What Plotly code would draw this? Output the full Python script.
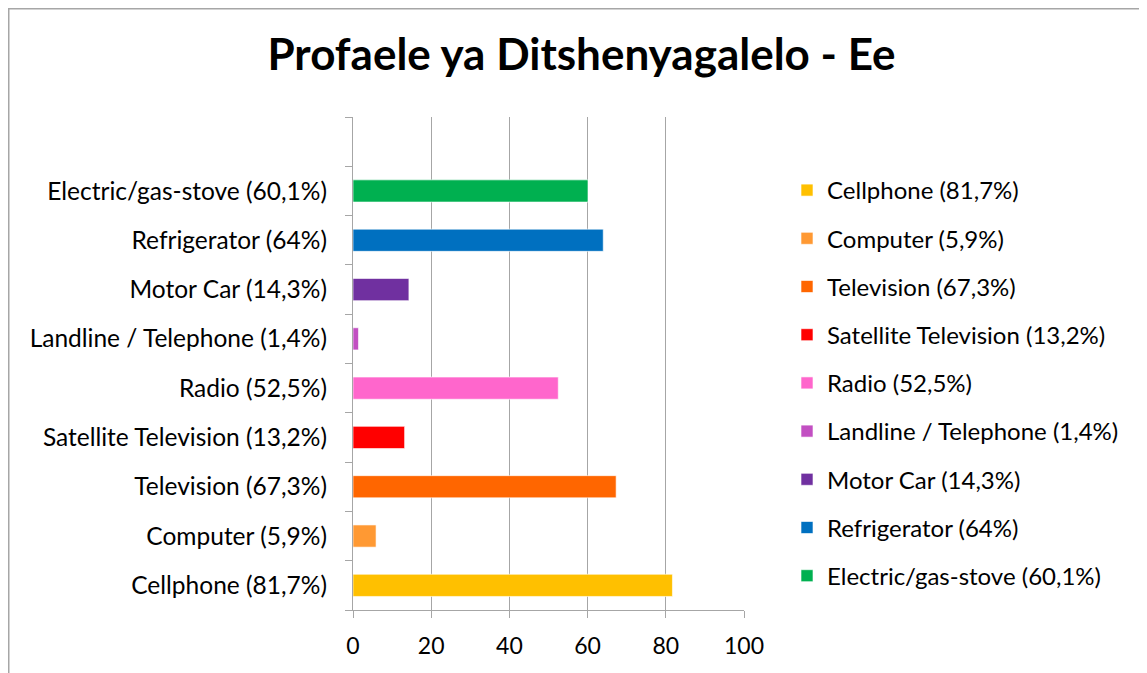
import plotly.graph_objects as go

categories = ["Cellphone (81,7%)", "Computer (5,9%)", "Television (67,3%)",
              "Satellite Television (13,2%)", "Radio (52,5%)",
              "Landline / Telephone (1,4%)", "Motor Car (14,3%)",
              "Refrigerator (64%)", "Electric/gas-stove (60,1%)"]
values = [81.7, 5.9, 67.3, 13.2, 52.5, 1.4, 14.3, 64, 60.1]
colors = ["#FFC000", "#FF9933", "#FF6600", "#FF0000", "#FF66CC",
          "#C24FC2", "#7030A0", "#0070C0", "#00B050"]
x_ticks = [0, 20, 40, 60, 80, 100]
title_text = "Profaele ya Ditshenyagalelo - Ee"

FONT = "Lato"
fig = go.Figure()
for cat, val, col in zip(categories, values, colors):
    fig.add_trace(go.Bar(
        y=[cat], x=[val], name=cat, orientation="h",
        marker=dict(color=col, line=dict(color="rgba(255,255,255,0.6)", width=1)),
        width=0.45, legendgroup=cat,
    ))

cat_order = categories + [" "]

# page is offset by the 8px body margin
W, H = 1147, 673
L, R, T, B = 345, 411, 109, 71
pw, ph = W - L - R, H - T - B

def px2x(px):
    return (px - L) / pw

def px2y(py):
    return (H - B - py) / ph

fig.update_layout(
    width=W, height=H,
    margin=dict(l=L, r=R, t=T, b=B),
    paper_bgcolor="white", plot_bgcolor="white",
    barmode="overlay",
    font=dict(family=FONT, size=24, color="#000000"),
    title=dict(text="<b>" + title_text + "</b>", x=0.5, xanchor="center",
               y=1 - 47 / H, yanchor="middle",
               font=dict(family=FONT, size=44, color="#000000")),
    xaxis=dict(range=[0, 100], tickvals=x_ticks, showgrid=True,
               gridcolor="#A6A6A6", gridwidth=1.3, zeroline=False,
               showline=True, linecolor="#A6A6A6", linewidth=1.3,
               ticks="outside", ticklen=7, tickcolor="#A6A6A6", tickwidth=1.3,
               ticklabelstandoff=8,
               tickfont=dict(family=FONT, size=23), fixedrange=True),
    yaxis=dict(type="category", categoryorder="array", categoryarray=cat_order,
               range=[-0.5, 9.5], showgrid=False, zeroline=False,
               showline=True, linecolor="#A6A6A6", linewidth=1.3,
               ticks="outside", ticklen=7, tickcolor="#A6A6A6", tickwidth=1.3,
               tickson="boundaries", ticklabelstandoff=20,
               tickfont=dict(family=FONT, size=24.5)),
    legend=dict(x=px2x(779), xanchor="left", y=px2y(160), yanchor="top",
                traceorder="grouped", tracegroupgap=14,
                font=dict(family=FONT, size=24), itemclick=False),
    shapes=[dict(type="rect", xref="paper", yref="paper",
                 x0=px2x(0.75), x1=px2x(1170), y0=px2y(0.75), y1=px2y(700),
                 line=dict(color="#A6A6A6", width=1.5), fillcolor="rgba(0,0,0,0)",
                 layer="below")],
)

fig.write_html("out.html")
